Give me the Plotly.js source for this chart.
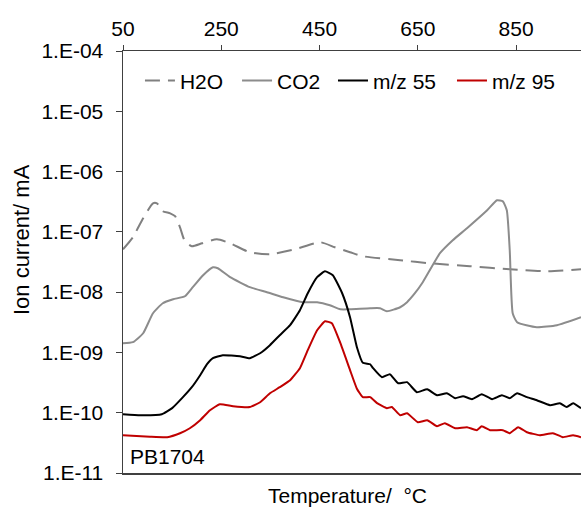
<!DOCTYPE html>
<html>
<head>
<meta charset="utf-8">
<script src="https://cdn.plot.ly/plotly-3.0.1.min.js"></script>
<style>html,body{margin:0;padding:0;background:#fff;}#chart{width:581px;height:507px;}</style>
</head>
<body>
<div id="chart"></div>
<script>
// Temperature (°C) and ion current (mA)
const h2oT = [50, 70, 91, 111, 119, 131, 146, 156, 166, 176, 190, 211, 241, 268, 308, 349, 400, 451, 481, 512, 538, 614, 675, 756, 837, 913, 982];
const h2oV = [5.14e-8, 8.13e-8, 1.68e-7, 2.98e-7, 2.98e-7, 2.20e-7, 2.03e-7, 1.82e-7, 1.19e-7, 6.98e-8, 5.77e-8, 6.47e-8, 7.54e-8, 6.47e-8, 4.59e-8, 4.25e-8, 5.14e-8, 6.73e-8, 5.55e-8, 4.59e-8, 3.94e-8, 3.38e-8, 3.01e-8, 2.69e-8, 2.40e-8, 2.22e-8, 2.40e-8];

const co2T = [50, 70, 91, 111, 131, 152, 176, 192, 213, 233, 243, 268, 308, 343, 376, 416, 445, 471, 492, 512, 553, 573, 587, 614, 628, 644, 660, 695, 721, 750, 791, 811, 823, 831, 837, 843, 852, 892, 933, 982];
const co2V = [1.42e-9, 1.48e-9, 2.08e-9, 4.47e-9, 6.55e-9, 7.62e-9, 8.55e-9, 1.21e-8, 1.91e-8, 2.59e-8, 2.49e-8, 1.77e-8, 1.21e-8, 9.96e-9, 8.22e-9, 6.81e-9, 6.81e-9, 6.07e-9, 5.20e-9, 5.20e-9, 5.41e-9, 5.41e-9, 4.82e-9, 5.62e-9, 6.81e-9, 9.59e-9, 1.46e-8, 4.42e-8, 7.26e-8, 1.15e-7, 2.28e-7, 3.34e-7, 3.20e-7, 2.28e-7, 4.95e-8, 4.47e-9, 3.17e-9, 2.62e-9, 2.83e-9, 3.84e-9];

const m55T = [50, 85, 129, 150, 172, 190, 207, 221, 233, 253, 288, 308, 329, 349, 369, 390, 410, 426, 445, 461, 477, 496, 512, 526, 538, 553, 559, 577, 593, 610, 628, 648, 669, 689, 709, 726, 742, 760, 780, 801, 821, 837, 852, 872, 892, 919, 939, 953, 966, 982];
const m55V = [9.44e-11, 9.10e-11, 9.44e-11, 1.19e-10, 1.81e-10, 2.65e-10, 4.19e-10, 6.37e-10, 8.02e-10, 9.00e-10, 8.65e-10, 8.02e-10, 9.70e-10, 1.32e-9, 1.93e-9, 2.83e-9, 5.01e-9, 9.59e-9, 1.77e-8, 2.22e-8, 1.91e-8, 9.59e-9, 3.84e-9, 1.22e-9, 6.75e-10, 6.37e-10, 5.47e-10, 3.88e-10, 4.36e-10, 3.08e-10, 3.21e-10, 2.19e-10, 2.45e-10, 1.95e-10, 2.10e-10, 1.74e-10, 1.88e-10, 1.68e-10, 2.03e-10, 1.68e-10, 1.95e-10, 1.74e-10, 2.10e-10, 1.81e-10, 1.61e-10, 1.33e-10, 1.44e-10, 1.24e-10, 1.44e-10, 1.19e-10];

const m95T = [50, 105, 140, 166, 186, 207, 227, 247, 274, 308, 329, 349, 369, 390, 410, 426, 445, 461, 475, 492, 512, 526, 538, 553, 567, 587, 597, 614, 628, 650, 669, 689, 705, 726, 750, 770, 780, 797, 823, 837, 854, 872, 898, 925, 945, 966, 982];
const m95V = [4.24e-11, 4.00e-11, 3.93e-11, 4.57e-11, 5.53e-11, 7.52e-11, 1.10e-10, 1.38e-10, 1.28e-10, 1.24e-10, 1.49e-10, 2.10e-10, 2.65e-10, 3.46e-10, 5.47e-10, 1.09e-9, 2.33e-9, 3.29e-9, 3.05e-9, 1.45e-9, 5.10e-10, 2.50e-10, 1.81e-10, 1.81e-10, 1.44e-10, 1.19e-10, 1.24e-10, 9.10e-11, 9.81e-11, 6.95e-11, 7.52e-11, 5.97e-11, 6.70e-11, 5.53e-11, 5.75e-11, 5.13e-11, 5.97e-11, 5.13e-11, 5.13e-11, 4.57e-11, 5.75e-11, 4.75e-11, 4.24e-11, 4.57e-11, 3.93e-11, 4.24e-11, 3.93e-11];

const xTicks = [50, 250, 450, 650, 850];
const yTickVals = [1e-11, 1e-10, 1e-9, 1e-8, 1e-7, 1e-6, 1e-5, 1e-4];
const yTickText = ["1.E-11", "1.E-10", "1.E-09", "1.E-08", "1.E-07", "1.E-06", "1.E-05", "1.E-04"];
const seriesNames = ["H2O", "CO2", "m/z 55", "m/z 95"];

const font = "Arial, 'Liberation Sans', sans-serif";
const traces = [
  {x: h2oT, y: h2oV, name: seriesNames[0], legend: "legend", mode: "lines", line: {color: "#808080", width: 2, dash: "15px,8px", shape: "spline", smoothing: 0.6}},
  {x: co2T, y: co2V, name: seriesNames[1], legend: "legend2", mode: "lines", line: {color: "#8c8c8c", width: 2, shape: "spline", smoothing: 0.5}},
  {x: m55T, y: m55V, name: seriesNames[2], legend: "legend3", mode: "lines", line: {color: "#000000", width: 2, shape: "spline", smoothing: 0.4}},
  {x: m95T, y: m95V, name: seriesNames[3], legend: "legend4", mode: "lines", line: {color: "#c00000", width: 2, shape: "spline", smoothing: 0.4}}
];

function leg(xp) {
  return {orientation: "h", x: xp, xanchor: "left", y: 0.929, yanchor: "middle", font: {size: 21}, bgcolor: "rgba(0,0,0,0)", borderwidth: 0};
}

const layout = {
  width: 581, height: 507,
  margin: {l: 123, r: 0, t: 51, b: 34},
  paper_bgcolor: "#ffffff", plot_bgcolor: "#ffffff",
  font: {family: font, size: 21, color: "#000"},
  showlegend: true,
  legend: leg(0.037), legend2: leg(0.249), legend3: leg(0.4585), legend4: leg(0.7183),
  xaxis: {
    side: "top", range: [50, 982], tickvals: xTicks, ticktext: xTicks.map(String),
    showgrid: false, zeroline: false, showline: true, mirror: true, linecolor: "#404040", linewidth: 1.5,
    ticks: "outside", ticklen: 5, tickcolor: "#404040", tickfont: {size: 21}, ticklabelstandoff: 0
  },
  yaxis: {
    type: "log", range: [-11, -4], tickvals: yTickVals, ticktext: yTickText,
    showgrid: false, zeroline: false, showline: true, linecolor: "#404040", linewidth: 1.5,
    ticks: "outside", ticklen: 6, tickcolor: "#404040", tickfont: {size: 21}, ticklabelstandoff: 8
  },
  annotations: [
    {text: "Temperature/  °C", xref: "paper", yref: "paper", x: 0.491, y: -0.0853, xanchor: "center", yanchor: "bottom", showarrow: false, font: {size: 21}},
    {text: "Ion current/ mA", xref: "paper", yref: "paper", x: -0.2227, y: 0.552, xanchor: "center", yanchor: "middle", textangle: -90, showarrow: false, font: {size: 22}},
    {text: "PB1704", xref: "paper", yref: "paper", x: 0.011, y: 0.038, xanchor: "left", yanchor: "middle", showarrow: false, font: {size: 21}}
  ]
};

Plotly.newPlot("chart", traces, layout, {displayModeBar: false, staticPlot: true});
</script>
</body>
</html>
